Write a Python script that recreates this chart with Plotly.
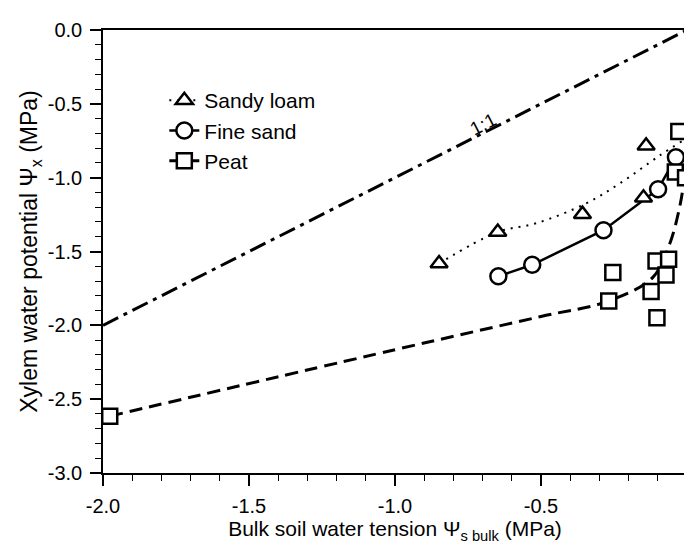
import plotly.graph_objects as go

# ---- data ----
sandy_x = [-0.849, -0.648, -0.358, -0.149, -0.140]
sandy_y = [-1.581, -1.368, -1.247, -1.136, -0.784]
sandy_fit_x = [-0.849, -0.648, -0.515, -0.345, -0.231, -0.094, -0.015]
sandy_fit_y = [-1.581, -1.368, -1.308, -1.174, -1.040, -0.851, -0.750]

fine_x = [-0.646, -0.530, -0.286, -0.099, -0.038]
fine_y = [-1.668, -1.590, -1.356, -1.078, -0.862]

peat_x = [-1.977, -0.268, -0.254, -0.123, -0.106, -0.103, -0.072, -0.063, -0.040, -0.028, -0.005]
peat_y = [-2.615, -1.835, -1.642, -1.771, -1.564, -1.949, -1.659, -1.553, -0.962, -0.688, -1.000]
peat_fit_x = [-1.977, -1.0, -0.5, -0.268, -0.117, -0.060, -0.026, -0.009, -0.001]
peat_fit_y = [-2.615, -2.165, -1.940, -1.835, -1.675, -1.452, -1.207, -1.007, -0.880]

one_x = [-2.0, 0.0]
one_y = [-2.0, 0.0]

x_ticks = [-2.0, -1.5, -1.0, -0.5, 0.0]
x_tick_text = ["-2.0", "-1.5", "-1.0", "-0.5", "0.0"]
y_ticks = [0.0, -0.5, -1.0, -1.5, -2.0, -2.5, -3.0]
y_tick_text = ["0.0", "-0.5", "-1.0", "-1.5", "-2.0", "-2.5", "-3.0"]

FONT = "Liberation Sans, Arial, Helvetica, sans-serif"
BLACK = "black"

tri = dict(symbol="triangle-up", size=15, color="white", line=dict(color=BLACK, width=2.5))
circ = dict(symbol="circle", size=16, color="white", line=dict(color=BLACK, width=2.5))
sq = dict(symbol="square", size=15, color="white", line=dict(color=BLACK, width=2.5))

dot_line = dict(color=BLACK, width=2, dash="2px,6px")
solid_line = dict(color=BLACK, width=2.5)
dash_line = dict(color=BLACK, width=3, dash="13px,7px")

fig = go.Figure()

# 1:1 line
fig.add_trace(go.Scatter(x=one_x, y=one_y, mode="lines",
                         line=dict(color=BLACK, width=3, dash="17px,6px,4px,6px"),
                         showlegend=False, hoverinfo="skip"))

# fitted curves
fig.add_trace(go.Scatter(x=sandy_fit_x, y=sandy_fit_y, mode="lines", line=dot_line,
                         line_shape="spline", showlegend=False))
fig.add_trace(go.Scatter(x=peat_fit_x, y=peat_fit_y, mode="lines", line=dash_line,
                         line_shape="spline", showlegend=False))
fig.add_trace(go.Scatter(x=fine_x, y=fine_y, mode="lines", line=solid_line, showlegend=False))

# markers
fig.add_trace(go.Scatter(x=sandy_x, y=sandy_y, mode="markers", marker=tri, showlegend=False))
fig.add_trace(go.Scatter(x=fine_x, y=fine_y, mode="markers", marker=circ, showlegend=False))
fig.add_trace(go.Scatter(x=peat_x, y=peat_y, mode="markers", marker=sq, showlegend=False))

# legend entries
fig.add_trace(go.Scatter(x=[None], y=[None], mode="lines+markers", name="Sandy loam",
                         line=dot_line, marker=tri, legendgroup="a"))
fig.add_trace(go.Scatter(x=[None], y=[None], mode="lines+markers", name="Fine sand",
                         line=solid_line, marker=circ, legendgroup="b"))
fig.add_trace(go.Scatter(x=[None], y=[None], mode="lines+markers", name="Peat",
                         line=dash_line, marker=sq, legendgroup="c"))

fig.add_annotation(x=-0.70, y=-0.64, text="1:1", showarrow=False, textangle=-27,
                   font=dict(family=FONT, size=19, color=BLACK))

axis_common = dict(
    showline=True, linecolor=BLACK, linewidth=1.5, mirror=True,
    ticks="outside", ticklen=11, tickwidth=1.5, tickcolor=BLACK,
    showgrid=False, zeroline=False,
    tickfont=dict(family=FONT, size=20, color=BLACK),
    minor=dict(dtick=0.1, ticks="outside", ticklen=6, tickwidth=1.2, tickcolor=BLACK, showgrid=False),
)

fig.update_xaxes(range=[-2.0, 0.0], tickvals=x_ticks, ticktext=x_tick_text,
                 ticklabelstandoff=3,
                 title=dict(text="Bulk soil water tension Ψ<sub>s bulk</sub> (MPa)",
                            font=dict(family=FONT, size=21, color=BLACK), standoff=6),
                 **axis_common)
fig.update_yaxes(range=[-3.0, 0.0], tickvals=y_ticks, ticktext=y_tick_text,
                 ticklabelstandoff=4,
                 title=dict(text="Xylem water potential Ψ<sub>x</sub> (MPa)",
                            font=dict(family=FONT, size=23, color=BLACK), standoff=4),
                 **axis_common)

fig.update_layout(
    width=692, height=546,
    margin=dict(l=95, r=11, t=16, b=81),
    plot_bgcolor="white", paper_bgcolor="white",
    font=dict(family=FONT, color=BLACK),
    legend=dict(x=0.105, y=0.887, xanchor="left", yanchor="top",
                bgcolor="rgba(0,0,0,0)", font=dict(family=FONT, size=21, color=BLACK),
                tracegroupgap=0),
)

fig.write_html("out.html")
